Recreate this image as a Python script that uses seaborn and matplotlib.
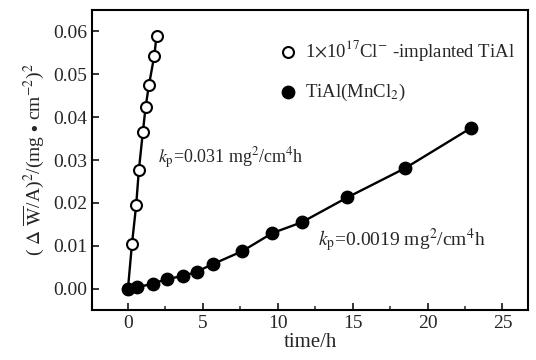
import matplotlib
matplotlib.use("Agg")
import matplotlib.pyplot as plt
import seaborn as sns
import numpy as np
import pandas as pd
from matplotlib.ticker import MultipleLocator

# Data
t_impl = [0.0, 0.27, 0.55, 0.73, 1.00, 1.18, 1.40, 1.76, 1.91]
y_impl = [0.0, 0.0105, 0.0195, 0.0277, 0.0366, 0.0424, 0.0474, 0.0543, 0.0589]

t_mncl = [0.0, 0.62, 1.67, 2.58, 3.69, 4.58, 5.69, 7.64, 9.64, 11.6, 14.65, 18.5, 22.87]
y_mncl = [0.0, 0.0004, 0.0012, 0.0023, 0.0030, 0.0040, 0.0058, 0.0088, 0.0130,
          0.0155, 0.0213, 0.0281, 0.0374]

label_impl = r"1$\times$10$^{17}$Cl$^{-}$ -implanted TiAl"
label_mncl = r"TiAl(MnCl$_2$)"
xticks = [0, 5, 10, 15, 20, 25]
yticks = [0.00, 0.01, 0.02, 0.03, 0.04, 0.05, 0.06]

sns.set_style("ticks")
plt.rcParams["font.family"] = ["Liberation Serif", "DejaVu Serif"]
plt.rcParams["mathtext.fontset"] = "stix"

df_i = pd.DataFrame({"t": t_impl, "y": y_impl})
df_m = pd.DataFrame({"t": t_mncl, "y": y_mncl})

fig = plt.figure(figsize=(5.36, 3.6), dpi=100)
ax = fig.add_axes([0.1716, 0.139, 0.8134, 0.833])

sns.lineplot(data=df_i, x="t", y="y", ax=ax, color="black", lw=1.7, legend=False, sort=False)
sns.lineplot(data=df_m, x="t", y="y", ax=ax, color="black", lw=1.7, legend=False, sort=False)
sns.scatterplot(data=df_i, x="t", y="y", ax=ax, s=62, facecolor="white", edgecolor="black",
                linewidth=1.5, label=label_impl, zorder=3)
sns.scatterplot(data=df_m, x="t", y="y", ax=ax, s=80, color="black", edgecolor="black",
                linewidth=1.0, label=label_mncl, zorder=3)

ax.set_xlim(-2.4, 26.7)
ax.set_ylim(-0.0049, 0.0649)
ax.set_xticks(xticks)
ax.set_yticks(yticks)
ax.set_xticklabels([str(v) for v in xticks])
ax.set_yticklabels([f"{v:.2f}" for v in yticks])
ax.xaxis.set_minor_locator(MultipleLocator(2.5))
ax.tick_params(axis="both", which="major", direction="in", length=5, width=1.3, labelsize=14)
ax.tick_params(axis="x", which="minor", direction="in", length=3, width=1.1)
for s in ax.spines.values():
    s.set_linewidth(1.5)
    s.set_color("black")

ax.set_xlabel("time/h", fontsize=15, labelpad=1)
ax.set_ylabel(r"( $\Delta$ $\overline{\rm W}$/A)$^2$/(mg $\bullet$ cm$^{-2}$)$^2$", fontsize=14, labelpad=5)

ax.text(2.0, 0.0305, r"$k_{\rm p}$=0.031 mg$^2$/cm$^4$h", fontsize=13, va="center", ha="left")
ax.text(12.7, 0.0115, r"$k_{\rm p}$=0.0019 mg$^2$/cm$^4$h", fontsize=14, va="center", ha="left")

ax.legend(loc="upper right", bbox_to_anchor=(1.0, 0.95), frameon=False, fontsize=13.5,
          handletextpad=0.4, borderaxespad=0.3, labelspacing=1.0, handlelength=1.0)

fig.savefig("out.png", dpi=100)
